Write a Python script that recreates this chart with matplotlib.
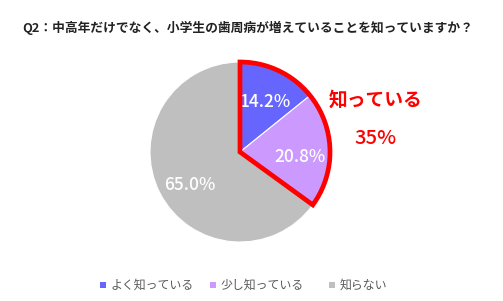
import matplotlib
matplotlib.use("Agg")
import matplotlib.pyplot as plt
from matplotlib.patches import Wedge, Rectangle

plt.rcParams['font.family'] = ['Noto Sans CJK JP', 'DejaVu Sans']

title = "Q2：中高年だけでなく、小学生の歯周病が増えていることを知っていますか？"
categories = ["よく知っている", "少し知っている", "知らない"]
values = [14.2, 20.8, 65.0]
colors = ["#6666FF", "#CC99FF", "#BFBFBF"]
highlight_label = "知っている"
highlight_value = "35%"

W, H = 503, 301
fig = plt.figure(figsize=(W / 100, H / 100), dpi=100)
ax = fig.add_axes([0, 0, 1, 1])

cx, cy, r = 240, 149, 90
wedges, _ = ax.pie(values, colors=colors, startangle=90, counterclock=False,
                   center=(cx, cy), radius=r,
                   wedgeprops=dict(edgecolor='white', linewidth=0.8), frame=True)
ax.set_xlim(0, W)
ax.set_ylim(0, H)
ax.set_aspect('equal')
ax.axis('off')

# labels
label_pos = [(265, 301 - 102), (300, 301 - 157), (190, 301 - 185)]
for v, (lx, ly) in zip(values, label_pos):
    ax.text(lx, ly, f"{v:.1f}%", color='white', fontsize=12.5,
            ha='center', va='center', fontweight='medium')

# highlight outline of known share
known = values[0] + values[1]
theta1 = 90 - known / 100 * 360
ax.add_patch(Wedge((cx, cy), r, theta1, 90, facecolor='none',
                   edgecolor='#FF0000', linewidth=3.4, joinstyle='miter', zorder=5))

ax.text(376, 301 - 100, highlight_label, color='#FF0000', fontsize=13.5,
        ha='center', va='center', fontweight='bold')
ax.text(376, 301 - 138, highlight_value, color='#FF0000', fontsize=14.5,
        ha='center', va='center', fontweight='medium')

# title
ax.text(22, 301 - 28, title, fontsize=9.2, ha='left', va='center',
        color='#222222', fontweight='bold')

# legend
leg_x = [103, 213, 332]
ly = 301 - 285
for x, c, lab in zip(leg_x, colors, categories):
    ax.add_patch(Rectangle((x - 3, ly - 3), 6, 6, facecolor=c, edgecolor='none'))
    ax.text(x + 8, ly, lab, fontsize=8.6, ha='left', va='center', color='#595959')

fig.savefig("out.png", dpi=100)
